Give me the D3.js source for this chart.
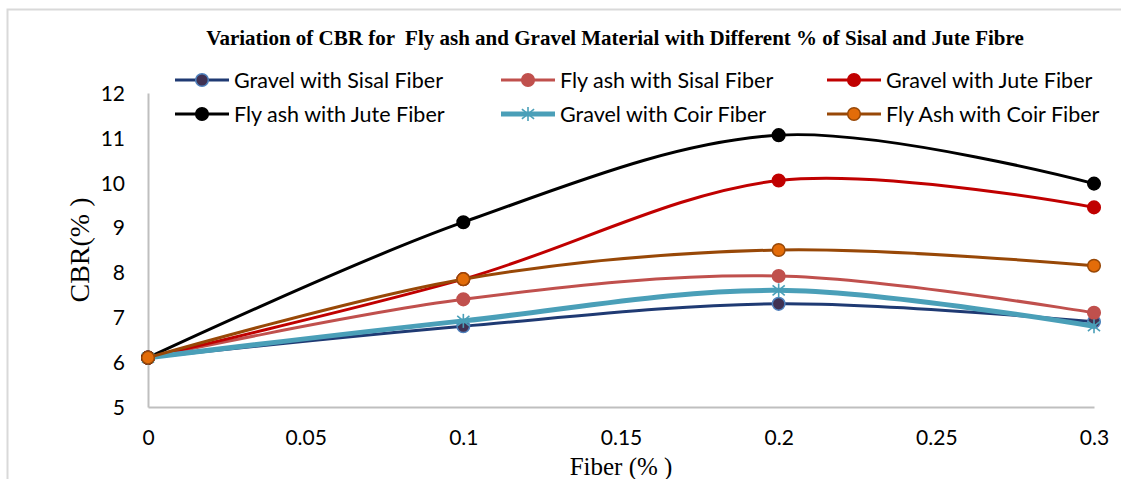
<!DOCTYPE html>
<html>
<head>
<meta charset="utf-8">
<script src="https://cdn.jsdelivr.net/npm/d3@7"></script>
<style>
  body { margin: 0; background: #fff; }
  svg { display: block; }
  .tick-label { font-family: Lato, "Noto Sans", sans-serif; font-size: 21px; fill: #000; }
  .legend-label { font-family: Lato, "Noto Sans", sans-serif; font-size: 21.5px; fill: #000; }
  .serif { font-family: "Liberation Serif", "Times New Roman", serif; fill: #000; }
</style>
</head>
<body>
<svg id="chart" width="1121" height="479"></svg>
<script>
// fibre content (%) on the x axis
var fiber = [0, 0.1, 0.2, 0.3];

// CBR values
var gravelSisal = [6.1, 6.8, 7.3, 6.9];
var flyashSisal = [6.1, 7.4, 7.92, 7.1];
var gravelJute = [6.1, 7.85, 10.05, 9.45];
var flyashJute = [6.1, 9.12, 11.06, 9.98];
var gravelCoir = [6.1, 6.92, 7.6, 6.8];
var flyashCoir = [6.1, 7.85, 8.5, 8.15];

var seriesNames = [
    "Gravel with Sisal Fiber", "Fly ash with Sisal Fiber", "Gravel with Jute Fiber",
    "Fly ash with Jute Fiber", "Gravel with Coir Fiber", "Fly Ash with Coir Fiber"
];
var xTicks = [0, 0.05, 0.1, 0.15, 0.2, 0.25, 0.3];
var yTicks = [5, 6, 7, 8, 9, 10, 11, 12];

// styles, same order as seriesNames
var styles = [
    {line: "#1f3a73", width: 3, marker: "circle", fill: "#403152", stroke: "#4f81bd"},
    {line: "#c0504d", width: 3, marker: "circle", fill: "#c0504d", stroke: "#c0504d"},
    {line: "#c00000", width: 3, marker: "circle", fill: "#c00000", stroke: "#c00000"},
    {line: "#000000", width: 3, marker: "circle", fill: "#000000", stroke: "#000000"},
    {line: "#4a9fb8", width: 5, marker: "star", fill: "none", stroke: "#4a9fb8"},
    {line: "#984807", width: 3, marker: "circle", fill: "#e36c09", stroke: "#984807"}
];

var allValues = [gravelSisal, flyashSisal, gravelJute, flyashJute, gravelCoir, flyashCoir];

var svg = d3.select("#chart");

var plotLeft = 148, plotRight = 1094, plotTop = 93, plotBottom = 407;

var x = d3.scaleLinear().domain([0, 0.3]).range([plotLeft, plotRight]);
var y = d3.scaleLinear().domain([5, 12]).range([plotBottom, plotTop]);

// outer chart frame (runs off the right and bottom edges)
svg.append("rect")
    .attr("x", 7.5).attr("y", 9.5)
    .attr("width", 1200).attr("height", 600)
    .attr("fill", "none")
    .attr("stroke", "#d9d9d9")
    .attr("stroke-width", 2);

// title
svg.append("text")
    .attr("class", "serif")
    .attr("x", 615).attr("y", 45)
    .attr("text-anchor", "middle")
    .attr("font-size", "21px")
    .attr("font-weight", "bold")
    .attr("xml:space", "preserve")
    .text("Variation of CBR for  Fly ash and Gravel Material with Different % of Sisal and Jute Fibre");

// axes
var fmt = d3.format("~g");
var xAxis = d3.axisBottom(x).tickValues(xTicks).tickSize(0).tickFormat(fmt);
var yAxis = d3.axisLeft(y).tickValues(yTicks).tickSize(0).tickFormat(fmt);

var gx = svg.append("g").attr("transform", "translate(0," + plotBottom + ")").call(xAxis);
var gy = svg.append("g").attr("transform", "translate(" + plotLeft + ",0)").call(yAxis);

[gx, gy].forEach(function(g) {
    g.select(".domain").attr("stroke", "#bfbfbf").attr("stroke-width", 2);
    g.selectAll("text").attr("class", "tick-label").attr("font-family", null).attr("font-size", null);
});
gx.selectAll("text").attr("y", 31).attr("dy", "0.35em");
gy.selectAll("text").attr("x", -23).attr("dy", "0.35em");

// axis titles
svg.append("text")
    .attr("class", "serif")
    .attr("font-size", "28px")
    .attr("text-anchor", "middle")
    .attr("xml:space", "preserve")
    .attr("transform", "translate(89,250) rotate(-90)")
    .text("CBR(% )");

svg.append("text")
    .attr("class", "serif")
    .attr("font-size", "25px")
    .attr("text-anchor", "middle")
    .attr("xml:space", "preserve")
    .attr("x", 621).attr("y", 475)
    .text("Fiber (% )");

// lines
var line = d3.line()
    .x(function(d, i) { return x(fiber[i]); })
    .y(function(d) { return y(d); })
    .curve(d3.curveCardinal.tension(0));

var drawMarker = function(g, st, cx, cy) {
    if (st.marker == "star") {
        var r = 7;
        var mg = g.append("g")
            .attr("transform", "translate(" + cx + "," + cy + ")")
            .attr("stroke", st.stroke)
            .attr("stroke-width", 1.6);
        mg.append("line").attr("x1", 0).attr("y1", -r).attr("x2", 0).attr("y2", r);
        mg.append("line").attr("x1", -r * 0.87).attr("y1", -r * 0.7).attr("x2", r * 0.87).attr("y2", r * 0.7);
        mg.append("line").attr("x1", -r * 0.87).attr("y1", r * 0.7).attr("x2", r * 0.87).attr("y2", -r * 0.7);
    } else {
        g.append("circle")
            .attr("cx", cx).attr("cy", cy).attr("r", 6.3)
            .attr("fill", st.fill)
            .attr("stroke", st.stroke)
            .attr("stroke-width", 1.5);
    }
};

for (var s = 0; s < allValues.length; s++) {
    var st = styles[s];
    var g = svg.append("g");
    g.append("path")
        .attr("d", line(allValues[s]))
        .attr("fill", "none")
        .attr("stroke", st.line)
        .attr("stroke-width", st.width)
        .attr("stroke-linecap", "round");
    for (var i = 0; i < fiber.length; i++) {
        drawMarker(g, st, x(fiber[i]), y(allValues[s][i]));
    }
}

// legend, 3 columns x 2 rows
var legendCols = [175, 501, 827];
var legendRows = [80, 114];
for (var k = 0; k < seriesNames.length; k++) {
    var lx = legendCols[k % 3];
    var ly = legendRows[Math.floor(k / 3)];
    var lg = svg.append("g");
    lg.append("line")
        .attr("x1", lx).attr("x2", lx + 54)
        .attr("y1", ly).attr("y2", ly)
        .attr("stroke", styles[k].line)
        .attr("stroke-width", styles[k].width);
    drawMarker(lg, styles[k], lx + 27, ly);
    lg.append("text")
        .attr("class", "legend-label")
        .attr("x", lx + 59).attr("y", ly)
        .attr("dy", "0.35em")
        .text(seriesNames[k]);
}
</script>
</body>
</html>
